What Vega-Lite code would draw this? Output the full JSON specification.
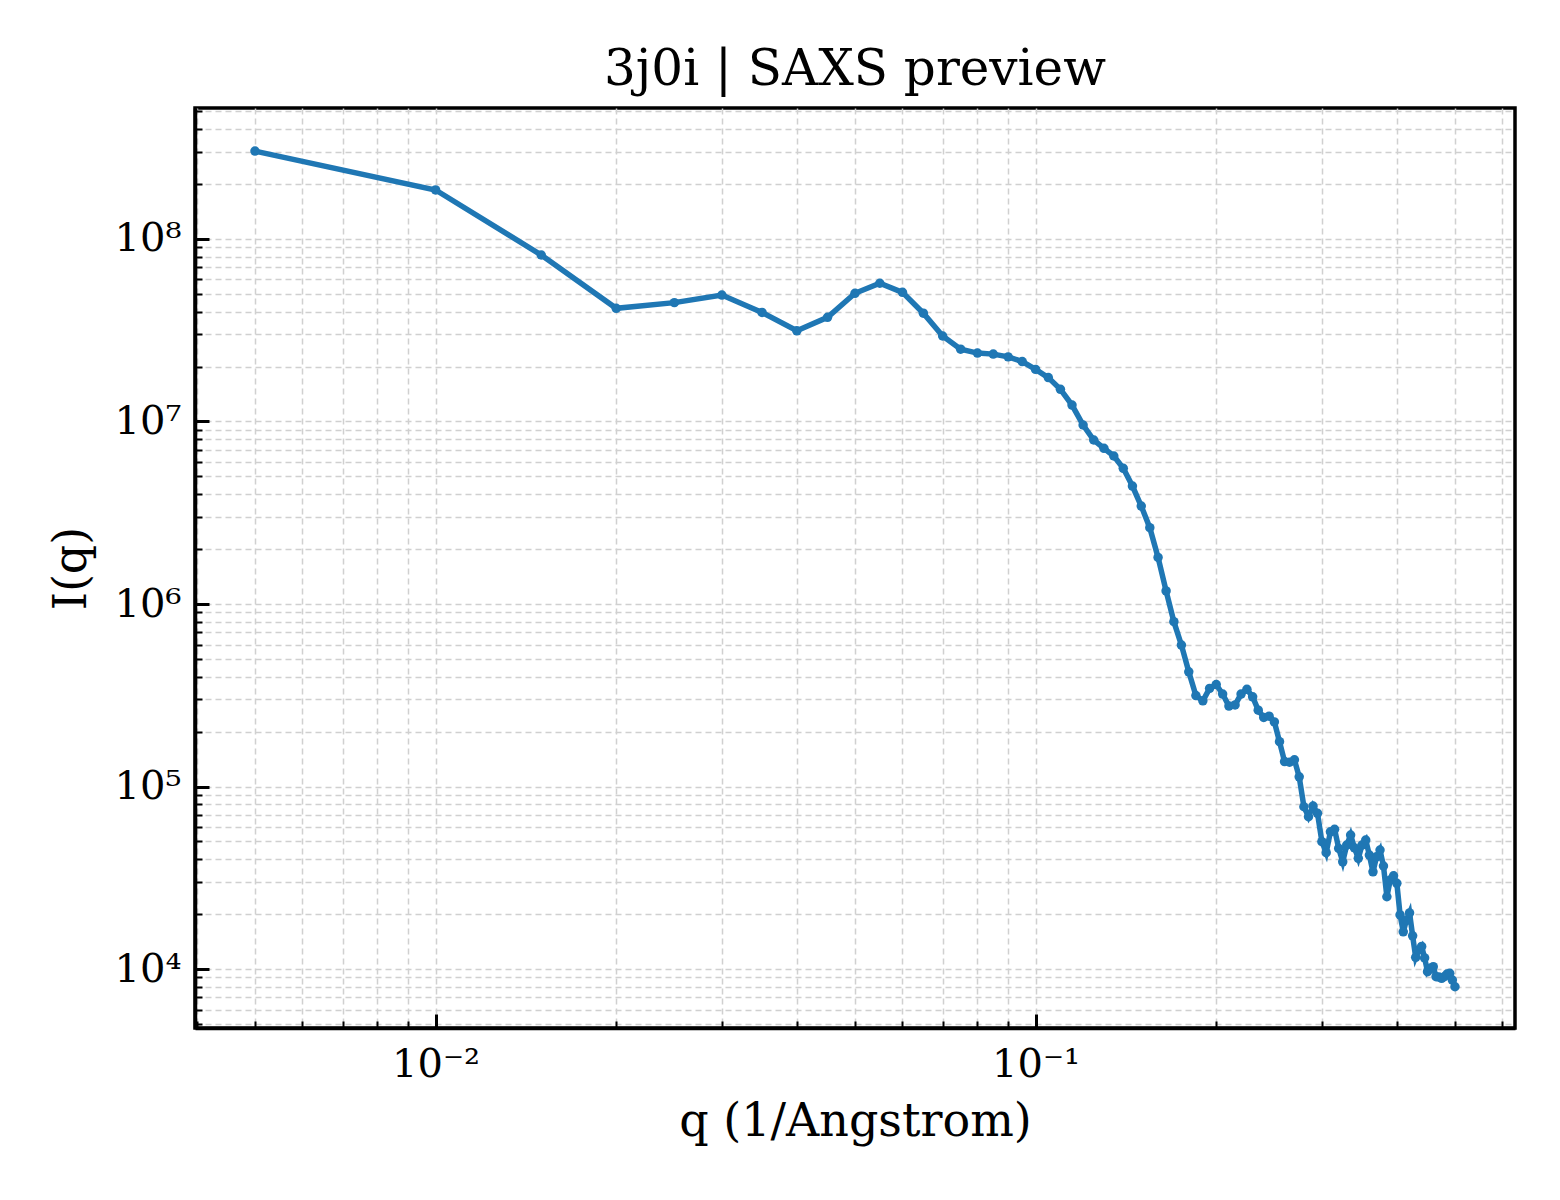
{
  "$schema": "https://vega.github.io/schema/vega-lite/v6.json",
  "description": "SAXS preview for 3j0i, log-log intensity profile.",
  "autosize": "none",
  "width": 1320,
  "height": 920,
  "padding": {"left": 195, "top": 108, "right": 45, "bottom": 172},
  "background": "white",
  "title": {
    "text": "3j0i | SAXS preview",
    "font": "DejaVu Serif",
    "fontSize": 50,
    "fontWeight": "normal",
    "color": "black",
    "anchor": "middle",
    "frame": "group",
    "baseline": "alphabetic",
    "offset": 22,
    "dy": 66
  },
  "data": {
    "values": [
      {"q": 0.005, "I": 303000000},
      {"q": 0.01, "I": 185600000},
      {"q": 0.015, "I": 81700000},
      {"q": 0.02, "I": 41700000},
      {"q": 0.025, "I": 44800000},
      {"q": 0.03, "I": 49300000},
      {"q": 0.035, "I": 39600000},
      {"q": 0.04, "I": 31400000},
      {"q": 0.045, "I": 37200000},
      {"q": 0.05, "I": 50400000},
      {"q": 0.055, "I": 57200000},
      {"q": 0.06, "I": 51000000},
      {"q": 0.065, "I": 39200000},
      {"q": 0.07, "I": 29400000},
      {"q": 0.075, "I": 24900000},
      {"q": 0.08, "I": 23700000},
      {"q": 0.085, "I": 23400000},
      {"q": 0.09, "I": 22600000},
      {"q": 0.095, "I": 21300000},
      {"q": 0.1, "I": 19300000},
      {"q": 0.105, "I": 17400000},
      {"q": 0.11, "I": 15000000},
      {"q": 0.115, "I": 12300000},
      {"q": 0.12, "I": 9570000},
      {"q": 0.125, "I": 7920000},
      {"q": 0.13, "I": 7130000},
      {"q": 0.135, "I": 6470000},
      {"q": 0.14, "I": 5540000},
      {"q": 0.145, "I": 4430000},
      {"q": 0.15, "I": 3440000},
      {"q": 0.155, "I": 2620000},
      {"q": 0.16, "I": 1800000},
      {"q": 0.165, "I": 1180000},
      {"q": 0.17, "I": 800000},
      {"q": 0.175, "I": 596000},
      {"q": 0.18, "I": 425000},
      {"q": 0.185, "I": 315000},
      {"q": 0.19, "I": 295000},
      {"q": 0.195, "I": 345000},
      {"q": 0.2, "I": 362000},
      {"q": 0.205, "I": 321000},
      {"q": 0.21, "I": 276000},
      {"q": 0.215, "I": 280000},
      {"q": 0.22, "I": 321000},
      {"q": 0.225, "I": 341000},
      {"q": 0.23, "I": 310000},
      {"q": 0.235, "I": 262000},
      {"q": 0.24, "I": 239000},
      {"q": 0.245, "I": 243000},
      {"q": 0.25, "I": 226000},
      {"q": 0.255, "I": 176000},
      {"q": 0.26, "I": 137000},
      {"q": 0.265, "I": 136000},
      {"q": 0.27, "I": 140000},
      {"q": 0.275, "I": 113000},
      {"q": 0.28, "I": 77500},
      {"q": 0.285, "I": 68300},
      {"q": 0.29, "I": 78200},
      {"q": 0.295, "I": 71300},
      {"q": 0.3, "I": 49900},
      {"q": 0.305, "I": 43400},
      {"q": 0.31, "I": 56500},
      {"q": 0.315, "I": 58300},
      {"q": 0.32, "I": 45800},
      {"q": 0.325, "I": 38700},
      {"q": 0.33, "I": 47800},
      {"q": 0.335, "I": 54200},
      {"q": 0.34, "I": 46100},
      {"q": 0.345, "I": 40400},
      {"q": 0.35, "I": 47800},
      {"q": 0.355, "I": 50900},
      {"q": 0.36, "I": 42100},
      {"q": 0.365, "I": 34100},
      {"q": 0.37, "I": 41200},
      {"q": 0.375, "I": 44900},
      {"q": 0.38, "I": 36700},
      {"q": 0.385, "I": 24900},
      {"q": 0.39, "I": 30800},
      {"q": 0.395, "I": 32400},
      {"q": 0.4, "I": 29500},
      {"q": 0.405, "I": 19800},
      {"q": 0.41, "I": 16000},
      {"q": 0.415, "I": 18500},
      {"q": 0.42, "I": 20300},
      {"q": 0.425, "I": 15200},
      {"q": 0.43, "I": 11600},
      {"q": 0.435, "I": 12700},
      {"q": 0.44, "I": 13300},
      {"q": 0.445, "I": 11500},
      {"q": 0.45, "I": 9670},
      {"q": 0.455, "I": 10100},
      {"q": 0.46, "I": 10300},
      {"q": 0.465, "I": 9080},
      {"q": 0.47, "I": 9040},
      {"q": 0.475, "I": 8890},
      {"q": 0.48, "I": 9080},
      {"q": 0.485, "I": 9390},
      {"q": 0.49, "I": 9470},
      {"q": 0.495, "I": 8700},
      {"q": 0.5, "I": 8000}
    ]
  },
  "encoding": {
    "x": {
      "field": "q",
      "type": "quantitative",
      "title": "q (1/Angstrom)",
      "scale": {"type": "log", "domain": [0.003972, 0.6295], "nice": false},
      "axis": {
        "values": [0.004, 0.005, 0.006, 0.007, 0.008, 0.009, 0.01, 0.02, 0.03, 0.04, 0.05, 0.06, 0.07, 0.08, 0.09, 0.1, 0.2, 0.3, 0.4, 0.5, 0.6],
        "labelExpr": "datum.value == 0.01 ? '10⁻²' : datum.value == 0.1 ? '10⁻¹' : ''",
        "tickSize": {"condition": {"test": "datum.value == 0.01 || datum.value == 0.1", "value": -14}, "value": -7},
        "tickWidth": {"condition": {"test": "datum.value == 0.01 || datum.value == 0.1", "value": 3}, "value": 2},
        "labelPadding": 30,
        "labelBaseline": "top",
        "titleY": 107,
        "titleBaseline": "alphabetic"
      }
    },
    "y": {
      "field": "I",
      "type": "quantitative",
      "title": "I(q)",
      "scale": {"type": "log", "domain": [4753, 522000000], "nice": false},
      "axis": {
        "values": [5000, 6000, 7000, 8000, 9000, 10000, 20000, 30000, 40000, 50000, 60000, 70000, 80000, 90000, 100000, 200000, 300000, 400000, 500000, 600000, 700000, 800000, 900000, 1000000, 2000000, 3000000, 4000000, 5000000, 6000000, 7000000, 8000000, 9000000, 10000000, 20000000, 30000000, 40000000, 50000000, 60000000, 70000000, 80000000, 90000000, 100000000, 200000000, 300000000, 400000000, 500000000],
        "labelExpr": "datum.value == 10000 ? '10⁴' : datum.value == 100000 ? '10⁵' : datum.value == 1000000 ? '10⁶' : datum.value == 10000000 ? '10⁷' : datum.value == 100000000 ? '10⁸' : ''",
        "tickSize": {"condition": {"test": "indexof([10000, 100000, 1000000, 10000000, 100000000], datum.value) >= 0", "value": -14}, "value": -7},
        "tickWidth": {"condition": {"test": "indexof([10000, 100000, 1000000, 10000000, 100000000], datum.value) >= 0", "value": 3}, "value": 2},
        "labelPadding": 28,
        "titleX": -110,
        "titleY": 460,
        "titleAngle": -90,
        "titleAlign": "center",
        "titleBaseline": "alphabetic"
      }
    }
  },
  "layer": [
    {
      "mark": {"type": "line", "color": "#1f77b4", "strokeWidth": 5.5, "clip": true}
    },
    {
      "mark": {"type": "point", "filled": true, "color": "#1f77b4", "opacity": 1, "size": 90, "clip": true}
    }
  ],
  "config": {
    "font": "DejaVu Serif",
    "view": {"stroke": "black", "strokeWidth": 3.5},
    "axis": {
      "domain": true,
      "domainColor": "black",
      "domainWidth": 3.5,
      "grid": true,
      "gridColor": "#d0d0d0",
      "gridDash": [6, 4],
      "gridWidth": 1.5,
      "tickColor": "black",
      "labelFont": "DejaVu Serif",
      "labelFontSize": 40,
      "labelColor": "black",
      "labelOverlap": false,
      "labelFlush": false,
      "labelBound": false,
      "titleFont": "DejaVu Serif",
      "titleFontSize": 46,
      "titleFontWeight": "normal",
      "titleColor": "black"
    }
  }
}
